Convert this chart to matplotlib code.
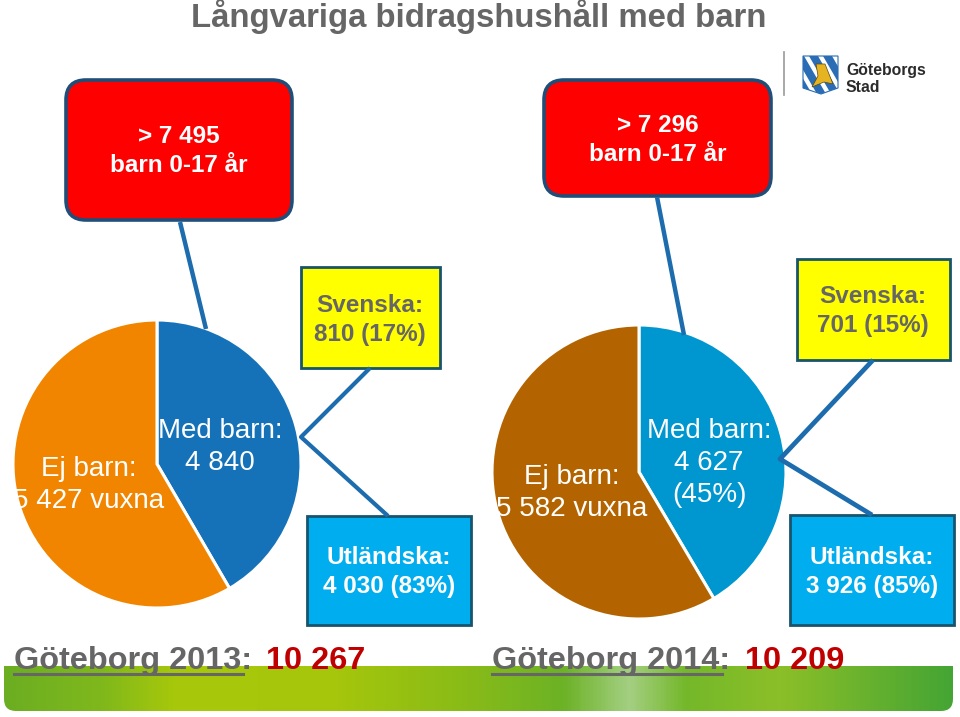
import matplotlib
matplotlib.use("Agg")
import matplotlib.pyplot as plt
import numpy as np
from matplotlib.colors import LinearSegmentedColormap
from matplotlib.patches import FancyBboxPatch, Polygon, Rectangle

plt.rcParams["font.family"] = ["Liberation Sans", "DejaVu Sans"]

W, H = 960, 717

# pie shares as drawn in the picture (%), clockwise from 12 o'clock
shares_2013 = [41.6, 58.4]
shares_2014 = [41.5, 58.5]
colors_2013 = ["#1672b8", "#f28500"]
colors_2014 = ["#0096cf", "#b36400"]

title = "Långvariga bidragshushåll med barn"
red_labels = ["> 7 495\nbarn 0-17 år", "> 7 296\nbarn 0-17 år"]
yellow_labels = ["Svenska:\n810 (17%)", "Svenska:\n701 (15%)"]
blue_labels = ["Utländska:\n4 030 (83%)", "Utländska:\n3 926 (85%)"]
city_labels = ["Göteborg 2013:", "Göteborg 2014:"]
city_totals = ["10 267", "10 209"]

GRAY = "#666666"
LINE = "#1c6cae"
EDGE = "#17546e"
band_stops = [0.0, 0.10, 0.18, 0.35, 0.49, 0.59, 0.66, 0.72, 0.82, 1.0]
band_colors = ["#6cae22", "#7fb81c", "#a8c80a", "#a5c60c", "#88bb18", "#6cb226",
               "#a4cf82", "#74b82a", "#8cbf28", "#45a534"]


def yy(y):
    return H - y


def box(ax, x0, y0, x1, y1, face, edge=EDGE, lw=2.0, rounding=0, z=3):
    if rounding:
        p = FancyBboxPatch((x0 + rounding, yy(y1) + rounding),
                           x1 - x0 - 2 * rounding, y1 - y0 - 2 * rounding,
                           boxstyle=f"round,pad={rounding},rounding_size={rounding}",
                           fc=face, ec=edge, lw=lw, zorder=z)
    else:
        p = Rectangle((x0, yy(y1)), x1 - x0, y1 - y0, fc=face, ec=edge, lw=lw, zorder=z)
    ax.add_patch(p)
    return p


def label(ax, x, y, s, size=18, color="white", weight="normal", ls=1.16, ha="center", z=6):
    return ax.text(x, yy(y), s, fontsize=size, color=color, fontweight=weight,
                   ha=ha, va="center", linespacing=ls, zorder=z)


def polyline(ax, xs, ys, lw=3.2):
    ax.plot(xs, [yy(v) for v in ys], color=LINE, lw=lw, zorder=5, solid_capstyle="butt")


fig = plt.figure(figsize=(W / 100, H / 100), dpi=100, facecolor="white")
ax = fig.add_axes([0, 0, 1, 1])

# pies
ax.pie(shares_2013, colors=colors_2013, center=(157, yy(464)), radius=144, startangle=90,
       counterclock=False, wedgeprops=dict(edgecolor="white", linewidth=2.2, zorder=4))
ax.pie(shares_2014, colors=colors_2014, center=(639, yy(472)), radius=147, startangle=90,
       counterclock=False, wedgeprops=dict(edgecolor="white", linewidth=2.2, zorder=4))
ax.set_xlim(0, W)
ax.set_ylim(0, H)
ax.set_aspect("equal")
ax.axis("off")

# connector lines
polyline(ax, [180, 206], [222, 329])
polyline(ax, [657, 684], [197, 335])
polyline(ax, [370, 301, 388], [368, 437, 516], lw=3)
polyline(ax, [873, 780, 872], [360, 459, 515], lw=3.4)

# red, yellow, cyan boxes
box(ax, 66, 80, 292, 220, "#ff0000", edge="#1f4e79", lw=2.6, rounding=20)
box(ax, 544, 80, 771, 196, "#ff0000", edge="#1f4e79", lw=2.6, rounding=20)
box(ax, 301, 267, 440, 368, "#ffff00")
box(ax, 797, 259, 950, 360, "#ffff00")
box(ax, 307, 516, 471, 625, "#00adef")
box(ax, 790, 515, 954, 625, "#00adef")

label(ax, 179, 151, red_labels[0], size=17.5, weight="bold", ls=1.36)
label(ax, 658, 140, red_labels[1], size=17.5, weight="bold", ls=1.36)
label(ax, 370, 320, yellow_labels[0], size=17.5, color=GRAY, weight="bold", ls=1.34)
label(ax, 873, 311, yellow_labels[1], size=17.5, color=GRAY, weight="bold", ls=1.34)
label(ax, 389, 572, blue_labels[0], size=17.5, weight="bold", ls=1.34)
label(ax, 872, 572, blue_labels[1], size=17.5, weight="bold", ls=1.34)

# pie labels
label(ax, 89, 485, "Ej barn:\n5 427 vuxna", size=20, ls=1.3)
label(ax, 220, 447, "Med barn:\n4 840", size=20, ls=1.3)
label(ax, 572, 493, "Ej barn:\n5 582 vuxna", size=20, ls=1.3)
label(ax, 709, 463, "Med barn:\n4 627\n(45%)", size=20, ls=1.3)

# title
label(ax, 479, 17, title, size=23.7, color=GRAY, weight="bold")

# green band, bottom corners rounded
clip = FancyBboxPatch((16, yy(711) + 12), 925, 60, boxstyle="round,pad=12,rounding_size=12",
                      fc="none", ec="none", zorder=1)
ax.add_patch(clip)
cmap = LinearSegmentedColormap.from_list("band", list(zip(band_stops, band_colors)))
grad = np.linspace(0, 1, 480).reshape(1, -1)
band = ax.imshow(grad, extent=(4, 953, yy(711), yy(666)), cmap=cmap, aspect="auto", zorder=1)
band.set_clip_path(clip)
ax.set_xlim(0, W)
ax.set_ylim(0, H)

# city totals
for x, x_total, name, total in zip([14, 492], [266, 745], city_labels, city_totals):
    ax.text(x, yy(661), name, fontsize=23.4, color=GRAY, fontweight="bold", ha="left",
            va="center", zorder=6)
    ax.text(x_total, yy(661), total, fontsize=23.4, color="#c00000", fontweight="bold",
            ha="left", va="center", zorder=6)
ax.plot([14, 243], [yy(674), yy(674)], color=GRAY, lw=2.2, zorder=6)
ax.plot([492, 722], [yy(674), yy(674)], color=GRAY, lw=2.2, zorder=6)

# logo
ax.plot([784, 784], [yy(52), yy(95)], color="#999999", lw=1.2)
shield = Polygon([(803, yy(56)), (838, yy(56)), (838, yy(88)), (821, yy(94)), (803, yy(88))],
                 closed=True, fc="white", ec="#2a6db5", lw=0.8, zorder=3)
ax.add_patch(shield)
for off in [-22, -8, 6, 20]:
    stripe = Polygon([(803 + off, yy(56)), (812 + off, yy(56)), (834 + off, yy(94)), (825 + off, yy(94))],
                     closed=True, fc="#2a6db5", ec="none", zorder=4)
    ax.add_patch(stripe)
    stripe.set_clip_path(shield)
lion = Polygon([(816, yy(64)), (825, yy(64)), (829, yy(74)), (833, yy(84)), (824, yy(82)),
                (812, yy(87)), (818, yy(76))],
               closed=True, fc="#e6b422", ec="#5a4a10", lw=0.5, zorder=5)
ax.add_patch(lion)
label(ax, 846, 79, "Göteborgs\nStad", size=11.3, color="#2b2b2b", weight="bold", ls=1.12, ha="left")

fig.savefig("out.png", dpi=100)
